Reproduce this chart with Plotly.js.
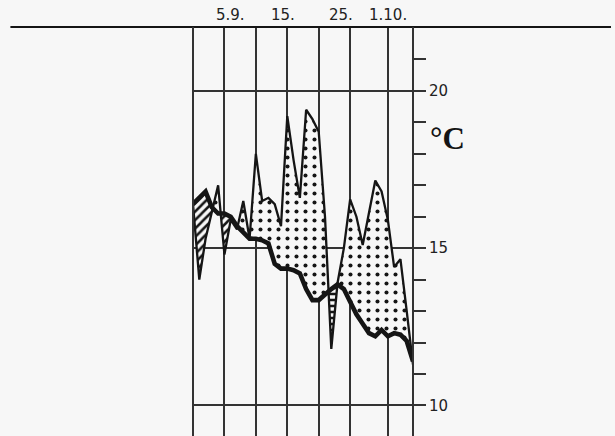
<!DOCTYPE html>
<html>
<head>
<meta charset="utf-8">
<script src="https://cdn.plot.ly/plotly-3.0.1.min.js"></script>
<style>html,body{margin:0;padding:0;background:#f7f7f7;}</style>
</head>
<body>
<div id="chart" style="width:615px;height:436px;"></div>
<script>
// Day index: 0 = 31.8., 5 = 5.9., ..., 31 = 1.10., 35 = 5.10.
const days = [0,1,2,3,4,5,6,7,8,9,10,11,12,13,14,15,16,17,18,19,20,21,22,23,24,25,26,27,28,29,30,31,32,33,34,35];
const dailyTemp = [16.4,14.0,15.3,16.2,17.0,14.8,15.9,15.6,16.5,15.3,18.0,16.5,16.6,16.4,15.7,19.2,17.8,16.6,19.4,19.1,18.7,16.0,11.8,13.9,15.0,16.55,16.0,15.1,16.1,17.15,16.8,15.9,14.4,14.65,13.0,11.3];
const meanTemp  = [16.4,16.6,16.8,16.3,16.1,16.1,16.0,15.7,15.5,15.3,15.3,15.25,15.15,14.5,14.35,14.35,14.3,14.2,13.7,13.35,13.35,13.55,13.7,13.85,13.7,13.3,12.9,12.6,12.3,12.2,12.4,12.2,12.3,12.25,12.05,11.4];
const gridDays = [0,5,10,15,20,25,31,35];
const labelDays = [5,15,25,31];
const labelTexts = ['5.9.','15.','25.','1.10.'];
const labelShift = [6,-4,-9,0];
const yTicks = [10,15,20];
const yMinor = [10,11,12,13,14,15,16,17,18,19,20,21];

// augment with crossing points
const pts = [];
for (let i = 0; i < days.length; i++) {
  pts.push({x: days[i], a: dailyTemp[i], b: meanTemp[i]});
  if (i < days.length - 1) {
    const d0 = dailyTemp[i] - meanTemp[i], d1 = dailyTemp[i+1] - meanTemp[i+1];
    if (d0 * d1 < 0) {
      const t = d0 / (d0 - d1);
      const y = meanTemp[i] + t * (meanTemp[i+1] - meanTemp[i]);
      pts.push({x: days[i] + t * (days[i+1] - days[i]), a: y, b: y});
    }
  }
}
// group into sign segments
const segs = [];
let cur = null;
for (let i = 0; i < pts.length; i++) {
  const p = pts[i];
  const d = p.a - p.b;
  const s = Math.abs(d) < 1e-9 ? 0 : (d > 0 ? 1 : -1);
  if (s === 0) {
    if (cur) { cur.pts.push(p); segs.push(cur); cur = null; }
    cur = {sign: 0, pts: [p]};
  } else {
    if (!cur) cur = {sign: s, pts: []};
    if (cur.sign === 0) cur.sign = s;
    if (cur.sign !== s) { segs.push(cur); cur = {sign: s, pts: [cur.pts[cur.pts.length-1]]}; }
    cur.pts.push(p);
  }
}
if (cur) segs.push(cur);

const BG = '#f7f7f7';
const INK = '#151515';
const traces = [];
segs.forEach(sg => {
  if (sg.sign === 0 || sg.pts.length < 2) return;
  const xs = sg.pts.map(p => p.x);
  const xsR = xs.slice().reverse();
  const ya = sg.pts.map(p => p.a);
  const ybR = sg.pts.map(p => p.b).reverse();
  const pos = sg.sign > 0;
  const shape = pos ? '.' : (xs[0] < 10 ? '/' : '-');
  traces.push({
    x: xs.concat(xsR), y: ya.concat(ybR),
    type: 'scatter', mode: 'none', fill: 'toself', hoverinfo: 'skip',
    fillcolor: BG,
    fillpattern: pos ? {shape: shape, size: 9, solidity: 0.16, fgcolor: INK, bgcolor: BG}
                     : {shape: shape, size: 6, solidity: 0.42, fgcolor: INK, bgcolor: BG},
    showlegend: false
  });
});
traces.push({x: days, y: dailyTemp, type: 'scatter', mode: 'lines', line: {color: INK, width: 2.3}, showlegend: false, hoverinfo: 'skip'});
traces.push({x: days, y: meanTemp, type: 'scatter', mode: 'lines', line: {color: INK, width: 4.6}, showlegend: false, hoverinfo: 'skip'});

const annotations = labelDays.map((d, i) => ({
  x: d, xref: 'x', y: 1, yref: 'paper', yanchor: 'bottom', xanchor: 'center', yshift: 1, xshift: labelShift[i],
  text: labelTexts[i], showarrow: false, font: {family: 'DejaVu Sans', size: 15, color: '#222'}
}));
annotations.push({x: 1.159, xref: 'paper', y: 18.5, yref: 'y', xanchor: 'center', yanchor: 'middle', text: '°C', showarrow: false,
  font: {family: 'Liberation Serif', size: 31, color: INK, weight: 'bold'}});

const shapes = [
  {type: 'line', xref: 'paper', yref: 'paper', x0: -0.83, x1: 1.9, y0: 1, y1: 1, line: {color: INK, width: 2}},
  {type: 'line', xref: 'paper', yref: 'paper', x0: 0, x1: 0, y0: 0, y1: 1, line: {color: '#333', width: 2}},
  {type: 'line', xref: 'paper', yref: 'paper', x0: 1, x1: 1, y0: 0, y1: 1, line: {color: '#333', width: 2}}
];

const layout = {
  width: 615, height: 436,
  margin: {l: 193, r: 202, t: 27, b: 0},
  paper_bgcolor: BG, plot_bgcolor: BG,
  showlegend: false,
  xaxis: {range: [0, 35], tickvals: gridDays, showticklabels: false, ticks: '', showgrid: true,
    gridcolor: '#333', gridwidth: 2, zeroline: false, showline: false, fixedrange: true},
  yaxis: {side: 'right', range: [9.03, 22.03], tickvals: yTicks, showgrid: true, gridcolor: '#333', gridwidth: 2,
    ticks: 'outside', ticklen: 12, tickwidth: 2, tickcolor: '#333', showline: false,
    zeroline: false, tickfont: {family: 'DejaVu Sans', size: 15, color: '#222'},
    minor: {tickvals: yMinor, ticks: 'outside', ticklen: 12, tickwidth: 2, tickcolor: '#333', showgrid: false}},
  shapes: shapes,
  annotations: annotations
};
Plotly.newPlot('chart', traces, layout, {displayModeBar: false, staticPlot: true});
</script>
</body>
</html>
